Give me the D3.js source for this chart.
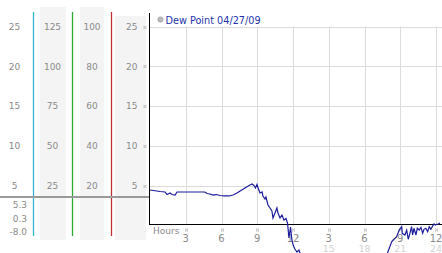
<!DOCTYPE html>
<html>
<head>
<meta charset="utf-8">
<script src="https://cdn.jsdelivr.net/npm/d3@7"></script>
<style>
  body { margin: 0; background: #fff; }
  svg { display: block; font-family: "DejaVu Sans", Verdana, sans-serif; }
</style>
</head>
<body>
<div class="chart"></div>
<script>
const width = 442;
const height = 253;

// dew point trace, hours since midnight -> value
const hours = [0, 0.84, 1.26, 1.43, 1.68, 1.85, 2.1, 2.27, 3.36, 4.61, 4.78, 5.03, 5.29, 5.54, 5.87, 6.21, 6.63, 6.96, 7.3, 7.63, 7.97,
  8.31, 8.56, 8.72, 8.85, 8.98, 9.1, 9.23, 9.4, 9.48, 9.65, 9.73, 9.9, 10.07, 10.23, 10.32, 10.49, 10.65, 10.74, 10.91, 11.07,
  11.24, 11.41, 11.54, 11.66, 11.79, 11.91, 12.04, 12.16, 12.33, 12.5, 12.67, 13.4, 15.1, 16.8, 18.0, 19.1, 19.7,
  19.99, 20.28, 20.41, 20.7, 20.91, 21.12, 21.17, 21.39, 21.54, 21.67, 21.81, 21.95, 22.04, 22.15, 22.32, 22.43, 22.59,
  22.74, 22.88, 22.99, 23.15, 23.3, 23.43, 23.57, 23.72, 23.83, 23.94, 24.05, 24.19, 24.33];
const dewPoint = [4.46, 4.27, 4.21, 3.89, 4.08, 3.89, 3.83, 4.21, 4.21, 4.21, 4.02, 3.96, 3.83, 3.89, 3.77, 3.71, 3.71, 3.83, 4.08, 4.4, 4.71,
  5.03, 5.21, 5.03, 4.71, 5.15, 4.59, 4.08, 4.21, 3.71, 3.33, 3.58, 2.58, 2.2, 1.82, 0.94, 1.57, 2.2, 1.57, 0.94, 1.32,
  0.69, 0.88, 0.31, -1.57, -0.19, -1.82, -2.58, -2.95, -3.33, -3.08, -3.83, -5.0, -7.0, -8.0, -7.5, -6.0, -4.5,
  -3.2, -2.04, -1.82, -1.41, -0.57, -0.15, -0.98, -1.19, -0.57, -1.73, -0.98, -0.15, -1.19, -0.35, -1.19, -0.35, -0.57,
  -0.23, -0.98, -0.48, -0.35, -0.78, -0.15, -0.48, -0.06, 0.19, 0.06, 0.15, 0.19, 0.3];

const yTicks = [5, 10, 15, 20, 25];
const col1Labels = [5, 10, 15, 20, 25];
const col2Labels = [25, 50, 75, 100, 125];
const col3Labels = [20, 40, 60, 80, 100];
const col4Labels = [5, 10, 15, 20, 25];
const statLabels = ['5.3', '0.3', '-8.0'];
const hourTicks = [3, 6, 9, 12, 15, 18, 21, 24];
const hourLabels = ['3', '6', '9', '12', '3', '6', '9', '12'];
const pmLabels = ['', '', '', '', '15', '18', '21', '24'];
const legendText = 'Dew Point 04/27/09';

const svg = d3.select('.chart').append('svg')
    .attr('width', width)
    .attr('height', height);

svg.append('rect').attr('width', width).attr('height', height).attr('fill', '#fff');

const x = d3.scaleLinear().domain([0, 24]).range([150, 436]);
const y = d3.scaleLinear().domain([0, 25]).range([225.5, 26.5]);

/* left panel: shaded columns */
const shade = [[40, 66, 7], [80, 104, 7], [115, 146, 16]];
svg.selectAll('.shade').data(shade).enter().append('rect')
    .attr('x', d => d[0]).attr('y', d => d[2])
    .attr('width', d => d[1] - d[0]).attr('height', d => 240 - d[2])
    .attr('fill', '#f4f4f4');

/* coloured dividers */
const dividers = [[33.5, '#33b5d5'], [72.5, '#2fa82f'], [111.5, '#c03030']];
svg.selectAll('.divider').data(dividers).enter().append('line')
    .attr('x1', d => d[0]).attr('x2', d => d[0])
    .attr('y1', 12).attr('y2', 236)
    .attr('stroke', d => d[1]).attr('stroke-width', 1.3);

/* scale labels */
function column(labels, xPos, anchor) {
    svg.append('g').selectAll('text').data(labels).enter().append('text')
        .attr('x', xPos)
        .attr('y', (d, i) => y(yTicks[i]))
        .attr('dy', '0.36em')
        .attr('text-anchor', anchor)
        .attr('font-size', 9)
        .attr('fill', '#8a8a8a')
        .text(d => d);
}
column(col1Labels, 14.5, 'middle');
column(col2Labels, 52.5, 'middle');
column(col3Labels, 92, 'middle');
column(col4Labels, 137.5, 'end');

/* separator + stats */
svg.append('line')
    .attr('x1', 0).attr('x2', 149)
    .attr('y1', 197).attr('y2', 197)
    .attr('stroke', '#9a9a9a').attr('stroke-width', 2);
svg.append('g').selectAll('text').data(statLabels).enter().append('text')
    .attr('x', 27)
    .attr('y', (d, i) => 208 + i * 13.7)
    .attr('text-anchor', 'end')
    .attr('font-size', 9)
    .attr('fill', '#8a8a8a')
    .text(d => d);

/* grid */
svg.append('g').selectAll('line').data(yTicks).enter().append('line')
    .attr('x1', 150).attr('x2', width)
    .attr('y1', d => Math.round(y(d)) + 0.5).attr('y2', d => Math.round(y(d)) + 0.5)
    .attr('stroke', '#dcdcdc');
svg.append('g').selectAll('line').data(hourTicks).enter().append('line')
    .attr('x1', d => Math.round(x(d)) + 0.5).attr('x2', d => Math.round(x(d)) + 0.5)
    .attr('y1', y(25)).attr('y2', y(0))
    .attr('stroke', '#dcdcdc');

/* tick marks: little hatched glyphs */
function glyph(cx, cy) {
    const g = svg.append('g').attr('fill', '#a8a8a8');
    [[0, 0], [2, 0], [1, 1], [0, 2], [2, 2]].forEach(p => {
        g.append('rect').attr('x', cx - 1.5 + p[0]).attr('y', cy - 1.5 + p[1])
            .attr('width', 1).attr('height', 1);
    });
}
yTicks.forEach(v => glyph(145, Math.round(y(v)) + 0.5));
hourTicks.forEach(h => glyph(Math.round(x(h)) + 0.5, 230));

/* axes */
svg.append('line')
    .attr('x1', 149.5).attr('x2', 149.5).attr('y1', 13).attr('y2', 225)
    .attr('stroke', '#000');
svg.append('line')
    .attr('x1', 149).attr('x2', width).attr('y1', 224.5).attr('y2', 224.5)
    .attr('stroke', '#000');

/* x labels */
svg.append('text')
    .attr('x', 153).attr('y', 234)
    .attr('font-size', 9).attr('fill', '#8a8a8a')
    .text('Hours');
svg.append('g').selectAll('text').data(hourTicks).enter().append('text')
    .attr('x', d => x(d)).attr('y', 241.5)
    .attr('text-anchor', 'middle')
    .attr('font-size', 10).attr('fill', '#8a8a8a')
    .text((d, i) => hourLabels[i]);
svg.append('g').selectAll('text').data(hourTicks).enter().append('text')
    .attr('x', d => x(d)).attr('y', 252)
    .attr('text-anchor', 'middle')
    .attr('font-size', 9.5).attr('fill', '#d4d4d4')
    .text((d, i) => pmLabels[i]);

/* dew point line */
const points = hours.map((h, i) => [h, dewPoint[i]]);
svg.append('path')
    .datum(points)
    .attr('fill', 'none')
    .attr('stroke', '#1c1c9c')
    .attr('stroke-width', 1.2)
    .attr('d', d3.line().x(d => x(d[0])).y(d => y(d[1])));

/* legend */
svg.append('circle')
    .attr('cx', 160.5).attr('cy', 19.5).attr('r', 2.6)
    .attr('fill', '#bdbdbd').attr('stroke', '#999').attr('stroke-width', 0.8);
svg.append('text')
    .attr('x', 165.5).attr('y', 23.5)
    .attr('font-size', 9.7).attr('fill', '#2233aa')
    .text(legendText);
</script>
</body>
</html>
